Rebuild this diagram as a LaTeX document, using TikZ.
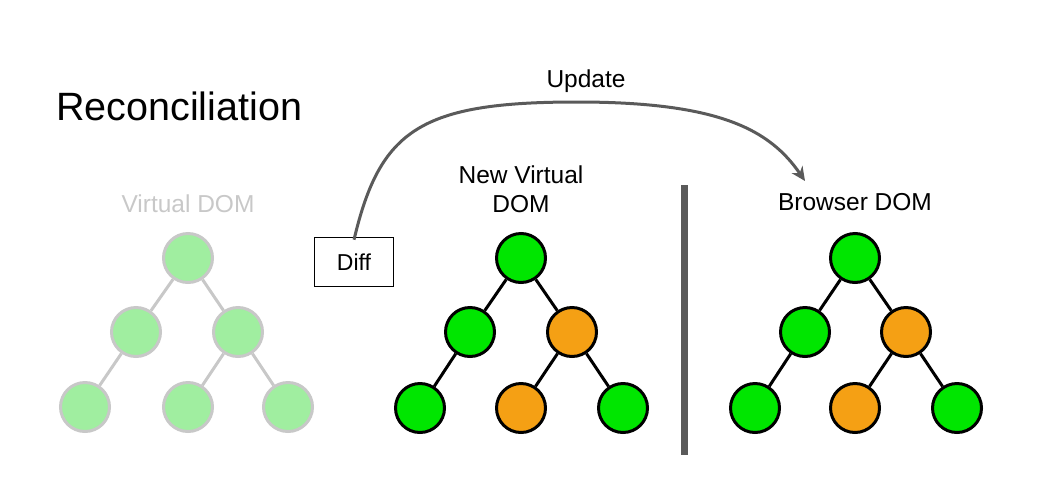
\documentclass[tikz,border=0pt]{standalone}
\usepackage{fontspec}
\setmainfont{Liberation Sans}
\usepackage{xcolor}
\usetikzlibrary{positioning, arrows.meta}

\definecolor{domgreen}{RGB}{0,230,0}
\definecolor{domorange}{RGB}{245,160,20}
\definecolor{fadegreen}{RGB}{160,238,160}
\definecolor{fadegray}{RGB}{200,200,200}
\definecolor{arrgray}{RGB}{90,90,90}

\begin{document}
\begin{tikzpicture}[
  x=1pt, y=-1pt,
  dom/.style={circle, draw=black, line width=3pt, minimum size=49pt, inner sep=0pt},
  gnode/.style={dom, fill=domgreen},
  onode/.style={dom, fill=domorange},
  fnode/.style={dom, draw=fadegray, fill=fadegreen},
  edge/.style={line width=3pt, black},
  fedge/.style={line width=3pt, fadegray},
  lbl/.style={font=\fontsize{24.5}{29}\selectfont, anchor=base, inner sep=0pt},
  upd/.style={-{Stealth[length=14pt, width=13pt]}, line width=3pt, arrgray}
]
  \useasboundingbox (0,0) rectangle (1040,501);

  \node[font=\fontsize{39.5}{46}\selectfont, anchor=base west, inner sep=0pt]
    (title) at (56,120) {Reconciliation};

  % old virtual DOM (faded)
  \node[lbl, text=fadegray] (vlabel) at (188,212) {Virtual DOM};
  \node[fnode] (v1) at (188,258) {};
  \node[fnode] (v2) at (136,332) {};
  \node[fnode] (v3) at (238,332) {};
  \node[fnode] (v4) at (85,407)  {};
  \node[fnode] (v5) at (188,407) {};
  \node[fnode] (v6) at (288,407) {};
  \draw[fedge] (v1) -- (v2);
  \draw[fedge] (v1) -- (v3);
  \draw[fedge] (v2) -- (v4);
  \draw[fedge] (v3) -- (v5);
  \draw[fedge] (v3) -- (v6);

  % diff box
  \node[draw, line width=1.6pt, minimum width=79pt, minimum height=49pt,
        font=\fontsize{23}{28}\selectfont] (diff) at (354,262) {Diff};

  % new virtual DOM
  \node[lbl] (nlabel1) at (521,183) {New Virtual};
  \node[lbl] (nlabel2) at (521,212) {DOM};
  \node[gnode] (n1) at (521,258) {};
  \node[gnode] (n2) at (470,332) {};
  \node[onode] (n3) at (572,332) {};
  \node[gnode] (n4) at (420,408) {};
  \node[onode] (n5) at (521,408) {};
  \node[gnode] (n6) at (623,408) {};
  \draw[edge] (n1) -- (n2);
  \draw[edge] (n1) -- (n3);
  \draw[edge] (n2) -- (n4);
  \draw[edge] (n3) -- (n5);
  \draw[edge] (n3) -- (n6);

  % divider
  \draw[line width=7pt, arrgray] (684.5,185) -- (684.5,455);

  % browser DOM
  \node[lbl] (blabel) at (855,210) {Browser DOM};
  \node[gnode] (b1) at (855,258) {};
  \node[gnode] (b2) at (805,332) {};
  \node[onode] (b3) at (906,332) {};
  \node[gnode] (b4) at (755,408) {};
  \node[onode] (b5) at (855,408) {};
  \node[gnode] (b6) at (957,408) {};
  \draw[edge] (b1) -- (b2);
  \draw[edge] (b1) -- (b3);
  \draw[edge] (b2) -- (b4);
  \draw[edge] (b3) -- (b5);
  \draw[edge] (b3) -- (b6);

  % update arrow
  \coordinate (updend) at (805,181);
  \draw[upd] ([yshift=-3pt]diff.north) .. controls (380,130) and (420,102) .. (577,102)
    .. controls (720,102) and (770,130) .. (updend);
  \node[lbl] (updlabel) at (586,87) {Update};
\end{tikzpicture}
\end{document}
